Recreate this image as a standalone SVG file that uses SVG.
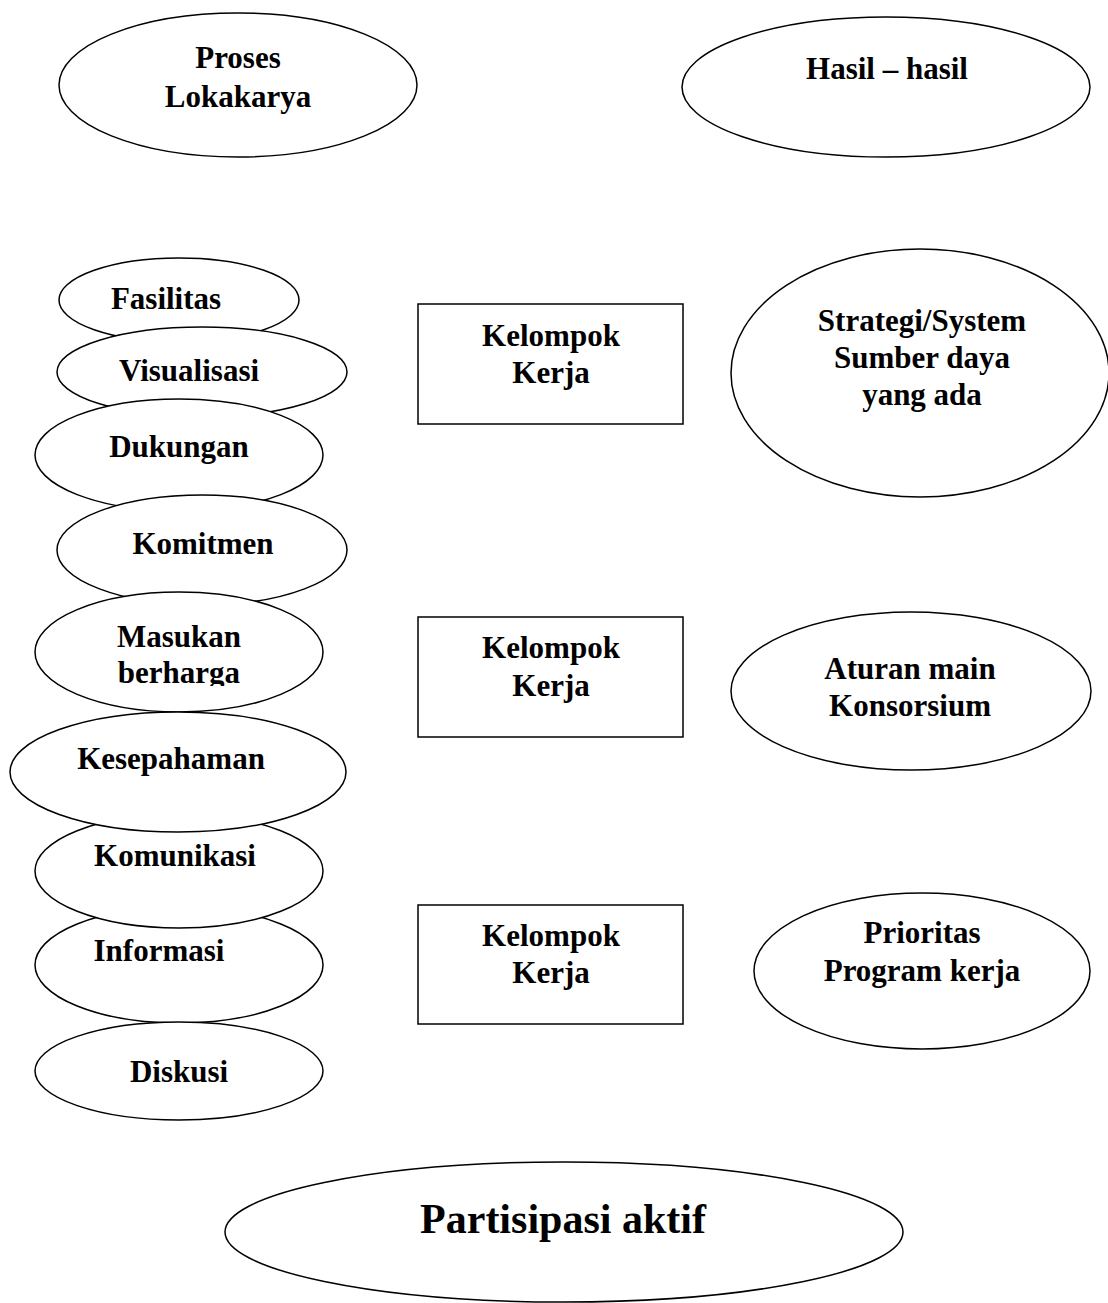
<svg xmlns="http://www.w3.org/2000/svg" width="1108" height="1303" viewBox="0 0 1108 1303">
<style>
.s{fill:#fff;stroke:#000;stroke-width:1.5}
text{font-family:"Liberation Serif","Times New Roman",serif;font-weight:bold;font-size:31px;fill:#000;text-anchor:middle}
.big{font-size:42px}
</style>
<defs><clipPath id="clipB"><rect x="0" y="600" width="400" height="86"/></clipPath></defs>
<rect width="1108" height="1303" fill="#fff"/>
<g id="proses"><ellipse class="s" cx="238" cy="85" rx="179" ry="72"/><text x="238" y="68">Proses</text><text x="238" y="107">Lokakarya</text></g>
<g id="hasil"><ellipse class="s" cx="886" cy="87" rx="204" ry="70"/><text x="887" y="79">Hasil – hasil</text></g>
<g id="fasilitas"><ellipse class="s" cx="179" cy="300" rx="120" ry="42"/><text x="166" y="309">Fasilitas</text></g>
<g id="visualisasi"><ellipse class="s" cx="202" cy="372" rx="145" ry="45"/><text x="189" y="381">Visualisasi</text></g>
<g id="dukungan"><ellipse class="s" cx="179" cy="455" rx="144" ry="56"/><text x="179" y="457">Dukungan</text></g>
<g id="komitmen"><ellipse class="s" cx="202" cy="550" rx="145" ry="55"/><text x="203" y="554">Komitmen</text></g>
<g id="masukan"><ellipse class="s" cx="179" cy="652" rx="144" ry="60"/><text x="179" y="647">Masukan</text><text x="179" y="683" clip-path="url(#clipB)">berharga</text></g>
<g id="informasi"><ellipse class="s" cx="179" cy="965" rx="144" ry="58"/><text x="159" y="961">Informasi</text></g>
<g id="komunikasi"><ellipse class="s" cx="179" cy="871" rx="144" ry="57"/><text x="175" y="866">Komunikasi</text></g>
<g id="kesepahaman"><ellipse class="s" cx="178" cy="772" rx="168" ry="60"/><text x="171" y="769">Kesepahaman</text></g>
<g id="diskusi"><ellipse class="s" cx="179" cy="1071" rx="144" ry="49"/><text x="179" y="1082">Diskusi</text></g>
<g id="kk1"><rect class="s" x="418" y="304" width="265" height="120"/><text x="551" y="346">Kelompok</text><text x="551" y="383">Kerja</text></g>
<g id="kk2"><rect class="s" x="418" y="617" width="265" height="120"/><text x="551" y="658">Kelompok</text><text x="551" y="696">Kerja</text></g>
<g id="kk3"><rect class="s" x="418" y="905" width="265" height="119"/><text x="551" y="946">Kelompok</text><text x="551" y="983">Kerja</text></g>
<g id="strategi"><ellipse class="s" cx="920" cy="373" rx="189" ry="124"/><text x="922" y="331">Strategi/System</text><text x="922" y="368">Sumber daya</text><text x="922" y="405">yang ada</text></g>
<g id="aturan"><ellipse class="s" cx="911" cy="691" rx="180" ry="79"/><text x="910" y="679">Aturan main</text><text x="910" y="716">Konsorsium</text></g>
<g id="prioritas"><ellipse class="s" cx="922" cy="971" rx="168" ry="78"/><text x="922" y="943">Prioritas</text><text x="922" y="981">Program kerja</text></g>
<g id="partisipasi"><ellipse class="s" cx="564" cy="1232" rx="339" ry="70"/><text class="big" x="563" y="1233">Partisipasi aktif</text></g>
<g id="connectors"></g>
</svg>
